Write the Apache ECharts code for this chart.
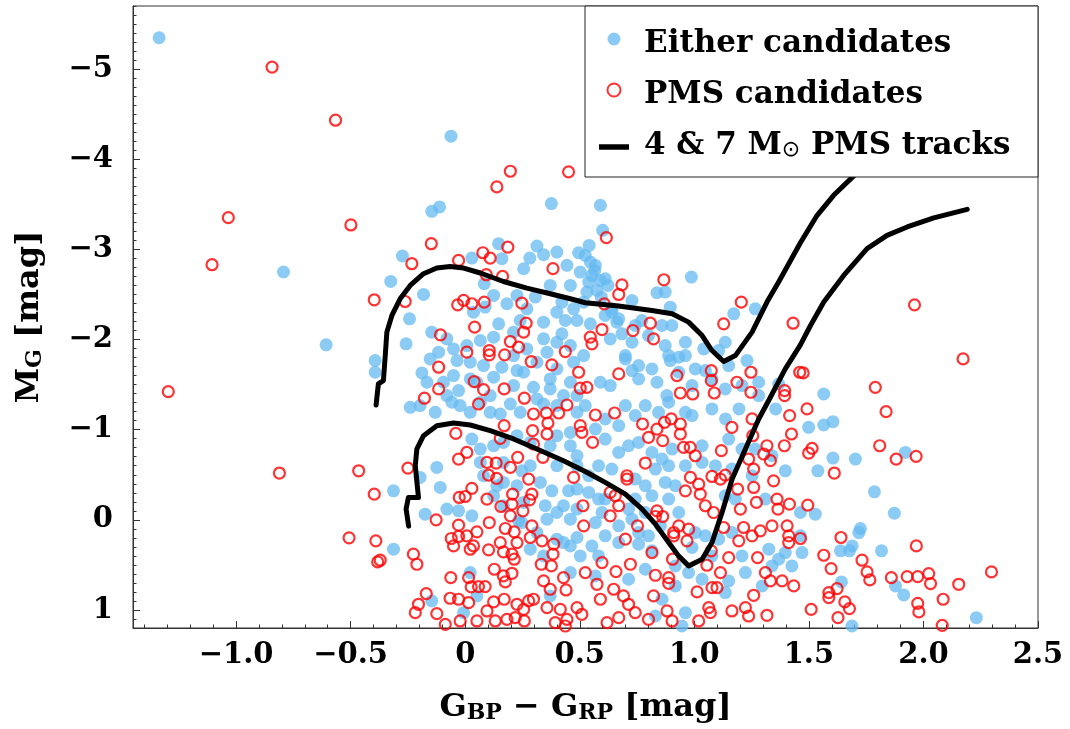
<!DOCTYPE html>
<html>
<head>
<meta charset="utf-8">
<title>Colour–magnitude diagram</title>
<script src="https://cdn.jsdelivr.net/npm/echarts@6/dist/echarts.min.js"></script>
<style>
  html, body { margin: 0; padding: 0; background: #fff; }
  #chart { width: 1070px; height: 729px; }
</style>
</head>
<body>
<div id="chart"></div>
<script>
// Colour (G_BP - G_RP) and absolute magnitude M_G of each star, as [colour, M_G].
const eitherCandidates = [
  [-1.336,-5.348],[-0.062,-4.256],[-0.793,-2.749],[-0.607,-1.941],
  [-0.146,-3.422],[-0.112,-3.471],[0.376,-3.508],[-0.274,-2.927],[-0.325,-2.645],[-0.182,-2.500],[-0.243,-2.230],[-0.258,-1.952],
  [-0.393,-1.767],[-0.393,-1.637],[-0.189,-1.630],[0.146,-3.063],[0.313,-3.037],[0.342,-2.941],[0.282,-2.904],[0.444,-2.823],
  [0.495,-2.963],[0.502,-2.748],[0.160,-2.897],[0.083,-2.619],[0.124,-2.489],[0.029,-2.904],[0.182,-2.397],[0.306,-2.471],
  [0.422,-2.415],[0.036,-2.304],[0.146,-2.174],[0.240,-2.211],[0.087,-2.360],[0.437,-2.211],[0.488,-2.211],[-0.146,-2.082],
  [-0.080,-2.008],[0.066,-1.989],[0.124,-2.026],[0.342,-2.008],[0.422,-2.063],[-0.116,-1.860],[-0.036,-1.767],[0.022,-1.749],
  [0.080,-1.711],[0.160,-1.693],[0.226,-1.656],[0.357,-1.860],[0.473,-1.749],[-0.051,-1.600],[0.022,-1.563],[0.124,-1.582],
  [0.255,-1.637],[0.371,-1.563],[0.298,-1.471],[0.371,-1.452],[-0.095,-1.526],[-0.029,-1.434],[0.211,-1.489],[0.109,-1.378],
  [0.429,-1.378],[0.211,-2.082],
  [0.211,-1.822],[0.269,-1.896],[0.313,-1.748],[0.400,-1.674],[0.459,-1.526],[0.488,-1.378],[0.313,-1.341],[0.400,-1.970],
  [0.459,-1.933],[0.517,-1.822],[0.342,-2.193],[0.400,-2.304],[0.473,-2.341],[0.517,-2.415],[0.269,-2.341],[0.226,-2.489],
  [0.371,-2.600],[0.459,-2.600],[0.400,-2.970],[0.255,-2.785],[-0.051,-1.896],[0.007,-1.933],[-0.153,-1.785],[0.051,-1.526],
  [-0.080,-1.378],[-0.167,-1.526],
  [0.590,-3.489],[0.600,-3.211],[0.541,-3.044],[0.546,-2.859],[0.565,-2.767],[0.539,-2.637],[0.590,-2.656],[0.623,-2.600],
  [0.594,-2.470],[0.987,-2.693],[0.837,-2.519],[0.873,-2.526],[0.728,-2.433],[0.895,-2.359],[0.640,-2.304],[0.662,-2.193],
  [0.546,-2.174],[0.633,-2.007],[0.684,-2.063],[0.800,-2.044],[0.859,-2.156],[0.902,-2.156],[0.961,-1.970],[0.873,-1.933],
  [1.041,-1.896],[1.135,-1.970],[1.172,-2.285],[1.266,-2.341],[1.106,-1.878],[0.699,-1.785],[0.895,-1.767],[0.932,-1.804],
  [0.728,-1.656],[0.757,-1.563],[0.837,-1.526],[0.932,-1.637],[1.048,-1.656],[1.230,-1.767],[1.150,-1.711],[0.633,-1.489],
  [0.590,-1.526],[0.990,-1.489],[1.135,-1.452],[1.368,-1.507],[1.281,-1.378],[0.880,-1.378],
  [0.524,-2.933],[0.568,-2.822],[0.553,-2.711],[0.611,-2.674],[0.575,-2.544],[0.531,-2.526],[0.640,-2.341],[0.670,-2.230],
  [0.611,-2.267],[0.742,-2.156],[0.771,-2.211],[0.728,-1.970],[0.699,-1.822],[0.757,-1.711],[0.815,-1.674],[0.888,-1.822],
  [0.961,-1.822],[1.004,-1.674],[1.077,-1.563],[1.208,-1.489],[1.281,-1.526],
  [1.565,-1.396],
  [-0.240,-1.248],[-0.131,-1.193],[-0.058,-1.304],[0.022,-1.193],[0.109,-1.193],[0.197,-1.285],[0.342,-1.285],[0.459,-0.970],
  [0.029,-0.896],[0.066,-0.785],[0.124,-0.822],[0.226,-0.933],[0.400,-0.933],[0.488,-0.711],[-0.124,-0.581],[-0.197,-0.470],
  [-0.109,-0.359],[-0.313,-0.322],[0.080,-0.489],[0.167,-0.415],[0.247,-0.544],[0.378,-0.322],[0.451,-0.322],[0.349,-0.156],
  [0.429,-0.156],[0.124,-0.267],[-0.080,-0.119],[-0.029,-0.100],[-0.175,-0.063],[0.029,-0.044],[0.233,0.011],[0.357,-0.007],
  [0.459,-0.007],[-0.313,0.326],[0.284,0.326],[0.429,0.252],[0.502,0.400],[0.022,0.585],[0.371,0.844],[0.459,0.585],
  [-0.146,0.900],[0.051,0.844],[-0.007,1.030],[0.247,0.030],[0.488,0.196],
  [-0.197,-1.267],[-0.022,-1.267],[0.066,-1.304],[0.153,-1.174],[0.240,-1.193],[0.400,-1.267],[0.488,-1.193],[0.167,-0.859],
  [0.284,-0.859],[0.371,-0.822],[0.459,-0.822],[0.066,-0.637],[0.167,-0.637],[0.284,-0.600],[0.400,-0.600],[0.488,-0.600],
  [0.138,-0.378],[0.226,-0.378],[0.328,-0.415],[0.488,-0.341],[0.167,-0.156],[0.255,-0.193],[0.400,-0.081],[0.488,-0.119],
  [0.313,0.141],[0.400,0.215],[0.459,0.289],[0.342,0.400],
  [0.611,-1.119],[0.699,-1.267],[0.786,-1.267],[0.888,-1.304],[0.990,-1.156],[1.136,-1.119],[1.195,-1.230],[1.355,-1.230],
  [0.611,-0.896],[0.713,-0.822],[0.757,-0.859],[0.903,-0.785],[1.034,-0.822],[1.208,-0.785],[0.582,-0.600],[0.640,-0.563],
  [0.830,-0.563],[0.888,-0.600],[0.917,-0.378],[1.092,-0.600],[1.164,-0.563],[1.397,-0.544],[0.539,-0.304],[0.582,-0.230],
  [0.815,-0.267],[0.786,-0.378],[1.135,-0.267],[1.310,-0.230],[0.713,-0.119],[0.728,-0.007],[0.568,0.030],[0.611,0.178],
  [0.670,0.067],[0.800,0.178],[0.852,0.067],[1.106,0.215],[1.048,0.178],[1.164,0.141],[0.553,0.289],[0.670,0.252],
  [0.757,0.270],[0.815,0.344],[0.990,0.307],[1.208,0.400],[1.368,0.437],[1.426,0.511],[0.975,0.585],[1.034,0.659],
  [0.713,0.659],[0.786,0.548],[0.917,0.733],[0.568,0.622],[1.150,0.678],[0.859,0.881],[0.961,1.030],[0.946,1.178],
  [1.135,0.807],[0.830,1.067],[1.397,0.363],[1.296,0.733],
  [0.524,-1.267],[0.568,-1.007],[0.670,-1.044],[0.742,-1.156],[0.844,-1.193],[0.961,-1.193],[1.077,-1.230],[0.670,-0.748],
  [0.815,-0.748],[0.859,-0.674],[0.961,-0.600],[1.034,-0.637],[1.150,-0.896],[1.266,-0.785],[1.339,-0.711],[0.539,-0.489],
  [0.742,-0.452],[0.873,-0.415],[1.252,-0.489],[0.611,-0.230],[0.742,-0.230],[0.888,-0.230],[1.179,-0.230],[0.597,-0.081],
  [0.786,-0.081],[0.932,-0.081],[1.004,0.141],[0.757,0.141],[0.582,0.400],[1.325,0.326],[1.223,0.585],[1.339,0.511],
  [1.077,0.400],[0.917,0.511],
  [1.499,-1.026],[1.565,-1.052],[1.605,-1.089],[1.605,-0.685],[1.703,-0.674],[1.539,-0.544],[1.921,-0.748],[1.786,-0.311],
  [1.528,-0.063],[1.873,-0.074],[1.463,-0.081],[1.725,0.096],[1.718,0.141],[1.689,0.289],[1.638,0.344],[1.677,0.344],
  [1.817,0.344],[1.470,0.363],[1.642,0.689],[1.878,0.733],[1.914,0.833],[2.231,1.085],[1.688,1.178],[1.463,0.178]
];

const pmsCandidates = [
  [-0.843,-5.022],[-0.566,-4.433],[-1.034,-3.352],[-0.499,-3.271],[-1.105,-2.830],[-1.296,-1.422],[-0.811,-0.519],[-0.465,-0.544],
  [-0.507,0.200],
  [0.197,-3.867],[0.451,-3.860],[0.138,-3.693],[-0.148,-3.063],[-0.233,-2.841],[-0.029,-2.878],[0.077,-2.963],[0.109,-2.904],
  [0.186,-3.026],[0.383,-2.786],[0.092,-2.719],[0.163,-2.700],[-0.397,-2.441],[-0.262,-2.422],[-0.033,-2.385],[-0.007,-2.434],
  [0.029,-2.397],[0.083,-2.415],[0.247,-2.404],[0.266,-2.182],[0.255,-2.082],[0.041,-2.137],[-0.108,-2.052],[0.197,-1.978],
  [0.233,-1.915],[0.007,-1.860],[0.105,-1.878],[0.105,-1.830],[0.172,-1.830],[0.437,-1.867],[0.288,-1.756],[0.378,-1.719],
  [-0.116,-1.693],[0.495,-1.637],[0.039,-1.534],[0.080,-1.445],[0.170,-1.452],[-0.116,-1.452],[-0.178,-1.349],[0.258,-1.349],
  [0.502,-1.460],
  [0.616,-3.130],[0.684,-2.607],[0.670,-2.500],[0.867,-2.663],[0.607,-2.396],[0.808,-2.181],[0.732,-2.100],[0.822,-2.007],
  [0.597,-2.111],[0.546,-2.026],[0.553,-1.952],[1.205,-2.415],[1.128,-2.174],[1.431,-2.181],[1.074,-1.656],[1.074,-1.544],
  [1.247,-1.637],[1.186,-1.526],[0.924,-1.600],[0.670,-1.619],[0.531,-1.470],[0.939,-1.407],[0.993,-1.396],[1.087,-1.407],
  [1.247,-1.415],[1.394,-1.433],[1.394,-1.378],[1.460,-1.637],
  [1.961,-2.385],[2.173,-1.785],[1.475,-1.630],[1.790,-1.470],
  [0.058,-1.285],[0.298,-1.174],[0.354,-1.185],[0.408,-1.185],[0.444,-1.274],[0.361,-1.074],[0.294,-0.989],[0.357,-0.952],
  [0.502,-1.044],[0.509,-0.970],[0.170,-1.044],[-0.041,-0.959],[0.153,-0.904],[0.298,-0.841],[0.339,-0.693],[0.229,-0.693],
  [0.197,-0.581],[0.095,-0.637],[0.135,-0.630],[0.007,-0.748],[-0.029,-0.674],[0.102,-0.496],[0.137,-0.459],[0.277,-0.452],
  [0.473,-0.470],[-0.250,-0.574],[-0.397,-0.285],[0.029,-0.348],[-0.026,-0.248],[0.000,-0.259],[0.095,-0.230],[0.207,-0.285],
  [0.291,-0.285],[0.281,-0.222],[0.156,-0.148],[0.204,-0.174],[0.197,-0.044],[0.252,-0.100],[0.291,0.067],[-0.127,0.000],
  [-0.029,0.059],[0.105,0.030],[0.175,0.096],[0.214,0.133],[0.514,-0.156],[0.517,0.067],[-0.390,0.233],[-0.371,0.448],
  [-0.382,0.467],[-0.226,0.381],[-0.211,0.493],[-0.061,0.207],[-0.029,0.185],[0.007,0.178],[0.051,0.133],[-0.051,0.289],
  [0.022,0.326],[0.036,0.289],[0.102,0.333],[0.153,0.252],[0.167,0.356],[0.226,0.252],[0.204,0.381],[0.214,0.437],
  [0.284,0.196],[0.335,0.233],[0.386,0.270],[0.383,0.381],[0.332,0.493],[0.376,0.511],[0.127,0.548],[0.167,0.622],
  [0.204,0.593],[0.175,0.689],[-0.063,0.641],[0.015,0.641],[0.026,0.744],[0.058,0.741],[0.087,0.741],[0.342,0.678],
  [0.371,0.770],[0.440,0.778],[0.429,0.641],[-0.170,0.819],[-0.204,0.937],[-0.066,0.870],[-0.029,0.881],[0.015,0.919],
  [0.124,0.911],[0.170,0.881],[0.226,0.937],[0.277,0.900],[0.255,0.993],[0.298,0.881],[-0.124,1.041],[-0.218,1.030],
  [-0.087,1.159],[-0.022,1.122],[0.051,1.122],[0.095,1.011],[0.131,1.122],[0.182,1.104],[0.218,1.085],[0.258,1.122],
  [0.357,0.974],[0.415,0.993],[0.444,1.104],[0.488,0.974],[0.393,1.141],[0.509,1.048],[0.437,1.178],
  [0.568,-1.163],[0.652,-1.185],[0.774,-1.063],[0.837,-1.007],[0.870,-1.081],[0.899,-1.119],[0.939,-1.063],[0.939,-0.952],
  [0.800,-0.915],[0.862,-0.878],[0.556,-0.859],[0.953,-0.804],[0.982,-0.804],[1.004,-0.711],[1.118,-0.767],[1.164,-1.026],
  [1.252,-1.119],[1.255,-0.933],[1.317,-0.822],[1.303,-0.730],[1.332,-0.656],[1.237,-0.674],[1.259,-0.563],[1.416,-1.156],
  [1.424,-0.952],[1.393,-0.822],[0.786,-0.630],[0.983,-0.470],[1.077,-0.481],[1.114,-0.452],[1.135,-0.496],[0.706,-0.489],
  [0.706,-0.452],[0.961,-0.322],[1.019,-0.396],[1.026,-0.285],[1.189,-0.341],[1.259,-0.359],[1.346,-0.433],[0.633,-0.304],
  [0.655,-0.267],[0.670,-0.156],[0.633,-0.044],[0.837,-0.100],[0.862,-0.037],[0.830,-0.037],[1.048,-0.156],[1.084,-0.081],
  [1.271,-0.193],[1.201,-0.119],[1.361,-0.230],[1.365,-0.119],[1.415,-0.174],[0.752,0.067],[0.699,0.215],[0.910,0.141],
  [0.932,0.067],[0.975,0.104],[0.968,0.233],[0.910,0.178],[1.128,0.085],[1.215,0.085],[1.288,0.122],[1.252,0.178],
  [1.194,0.233],[1.339,0.067],[1.405,0.067],[1.412,0.178],[1.412,0.252],[0.815,0.363],[0.905,0.437],[1.074,0.344],
  [1.150,0.419],[1.276,0.419],[0.597,0.474],[0.721,0.493],[0.658,0.574],[0.830,0.615],[0.888,0.641],[0.888,0.704],
  [1.055,0.504],[1.114,0.585],[1.012,0.800],[1.077,0.752],[1.099,0.752],[1.259,0.837],[1.310,0.585],[1.332,0.678],
  [1.383,0.678],[1.434,0.733],[0.524,0.585],[0.575,0.715],[0.590,0.881],[0.648,0.770],[0.691,0.844],[0.713,0.937],
  [0.742,1.030],[0.822,0.844],[0.881,1.011],[0.800,1.104],[0.670,1.085],[0.619,1.141],[0.903,1.122],[1.063,0.974],
  [1.070,1.030],[1.019,1.122],[1.164,1.011],[1.223,0.974],[1.237,1.067],[1.317,1.059],
  [1.492,-1.230],[1.837,-1.200],[1.514,-0.793],[1.499,-0.741],[1.809,-0.822],[1.881,-0.674],[1.968,-0.704],[1.611,-0.519],
  [1.495,-0.163],[1.463,0.207],[1.640,0.196],[1.969,0.289],[1.565,0.393],[1.597,0.541],[1.732,0.448],[1.754,0.578],
  [1.766,0.667],[1.860,0.641],[1.929,0.630],[1.975,0.630],[2.023,0.596],[2.031,0.707],[2.154,0.715],[2.297,0.578],
  [1.623,0.763],[1.587,0.807],[1.587,0.863],[1.657,0.911],[1.677,0.985],[1.510,0.993],[1.627,1.085],[1.975,0.926],
  [1.980,1.022],[2.086,0.881],[2.082,1.170]
];

// Pre-main-sequence evolutionary tracks, listed from the start of each track.
const track7Msun = [
  [-0.389,-1.274],[-0.379,-1.508],[-0.357,-1.544],[-0.349,-1.822],[-0.342,-2.082],[-0.320,-2.267],[-0.284,-2.452],
  [-0.240,-2.600],[-0.182,-2.730],[-0.124,-2.793],[-0.066,-2.811],[-0.007,-2.793],[0.066,-2.738],[0.167,-2.644],
  [0.269,-2.571],[0.371,-2.508],[0.459,-2.452],[0.524,-2.408],[0.669,-2.371],[0.815,-2.322],[0.903,-2.286],
  [0.975,-2.193],[1.034,-2.044],[1.077,-1.878],[1.128,-1.756],[1.179,-1.822],[1.252,-2.082],[1.317,-2.416],
  [1.368,-2.638],[1.463,-3.074],[1.536,-3.378],[1.608,-3.600],[1.696,-3.816],[1.769,-3.974],[1.878,-4.230]
];
const track4Msun = [
  [-0.247,0.070],[-0.258,-0.119],[-0.248,-0.249],[-0.204,-0.249],[-0.218,-0.600],[-0.211,-0.786],[-0.182,-0.933],
  [-0.124,-1.044],[-0.051,-1.074],[0.022,-1.052],[0.109,-0.989],[0.211,-0.897],[0.313,-0.786],[0.429,-0.656],
  [0.524,-0.536],[0.611,-0.416],[0.699,-0.286],[0.772,-0.119],[0.830,0.048],[0.888,0.251],[0.931,0.400],
  [0.975,0.511],[1.034,0.437],[1.077,0.251],[1.121,-0.082],[1.165,-0.452],[1.223,-0.786],[1.281,-1.119],
  [1.328,-1.341],[1.397,-1.674],[1.463,-1.941],[1.507,-2.156],[1.565,-2.416],[1.652,-2.711],[1.754,-3.008],
  [1.841,-3.156],[1.929,-3.249],[2.045,-3.349],[2.191,-3.444]
];

// Axis ranges and labelled tick positions.
const xRange = [-1.45, 2.5];
const yRange = [-5.7, 1.2];
const xMajorTicks = [-1.0, -0.5, 0, 0.5, 1.0, 1.5, 2.0, 2.5];
const yMajorTicks = [-5, -4, -3, -2, -1, 0, 1];

const TRACK_NAME = '4 & 7 M\u2299 PMS tracks';
const FONT = 'DejaVu Serif';
const AXIS_COLOR = '#333';

// Minor ticks every 0.1 between the labelled ones.
const xMinorTicks = [];
for (let i = -14; i <= 24; i++) if (i % 5 !== 0) xMinorTicks.push(i / 10);
const yMinorTicks = [];
for (let i = -57; i <= 12; i++) if (i % 10 !== 0) yMinorTicks.push(i / 10);

const minus = '\u2212';
const fmtX = v => v === 0 ? '0' : (v < 0 ? minus : '') + Math.abs(v).toFixed(1);
const fmtY = v => v === 0 ? '0' : (v < 0 ? minus : '') + Math.abs(v).toFixed(0);

const labelStyle = { color: '#000', fontFamily: FONT, fontWeight: 'bold', fontSize: 29 };
const titleRich = {
  n: { fontFamily: FONT, fontWeight: 'bold', fontSize: 32, lineHeight: 44, color: '#000', verticalAlign: 'bottom' },
  s: { fontFamily: FONT, fontWeight: 'bold', fontSize: 22, lineHeight: 22, color: '#000', verticalAlign: 'bottom' }
};

function minorAxis(range, values, pos) {
  return {
    type: 'value', min: range[0], max: range[1], position: pos,
    axisLine: { show: false, onZero: false }, splitLine: { show: false }, axisLabel: { show: false },
    axisTick: { show: true, inside: true, length: 3.5, customValues: values, lineStyle: { color: AXIS_COLOR } }
  };
}

const chart = echarts.init(document.getElementById('chart'), null, { renderer: 'canvas' });
chart.setOption({
  animation: false,
  backgroundColor: '#fff',
  grid: { left: 133, right: 32, top: 6, bottom: 100, show: true, borderColor: AXIS_COLOR, borderWidth: 1, backgroundColor: 'transparent' },
  xAxis: [
    {
      type: 'value', min: xRange[0], max: xRange[1], position: 'bottom',
      axisLine: { show: true, onZero: false, lineStyle: { color: AXIS_COLOR, width: 1 } },
      splitLine: { show: false },
      axisTick: { show: true, inside: true, length: 7, customValues: xMajorTicks, lineStyle: { color: AXIS_COLOR } },
      axisLabel: Object.assign({ customValues: xMajorTicks, formatter: fmtX, margin: 13 }, labelStyle),
      name: '{n|G}{s|BP}{n| \u2212 G}{s|RP}{n| [mag]}',
      nameLocation: 'middle', nameGap: 52,
      nameTextStyle: { rich: titleRich }
    },
    minorAxis(xRange, xMinorTicks, 'bottom')
  ],
  yAxis: [
    {
      type: 'value', min: yRange[0], max: yRange[1], inverse: true, position: 'left',
      axisLine: { show: true, onZero: false, lineStyle: { color: AXIS_COLOR, width: 1 } },
      splitLine: { show: false },
      axisTick: { show: true, inside: true, length: 7, customValues: yMajorTicks, lineStyle: { color: AXIS_COLOR } },
      axisLabel: Object.assign({ customValues: yMajorTicks, formatter: fmtY, margin: 20 }, labelStyle),
      name: '{n|M}{s|G}{n| [mag]}',
      nameLocation: 'middle', nameRotate: 90, nameGap: 87,
      nameTextStyle: { rich: titleRich }
    },
    Object.assign(minorAxis(yRange, yMinorTicks, 'left'), { inverse: true })
  ],
  legend: {
    orient: 'vertical', left: 599, top: 28, padding: 0, itemGap: 20,
    itemWidth: 30, itemHeight: 13, selectedMode: false, z: 6,
    formatter: name => name === TRACK_NAME
      ? '{n|4 & 7 M}{sub|\u2299}{n| PMS tracks}'
      : '{n|' + name + '}',
    textStyle: {
      padding: [0, 0, 0, 10],
      rich: {
        n: { fontFamily: FONT, fontWeight: 'bold', fontSize: 31, lineHeight: 40, color: '#000', verticalAlign: 'bottom' },
        sub: { fontFamily: 'DejaVu Sans', fontSize: 22, lineHeight: 18, color: '#000', verticalAlign: 'bottom' }
      }
    },
    data: [
      { name: 'Either candidates', icon: 'circle', itemStyle: { color: 'rgb(139,202,244)', opacity: 1 } },
      { name: 'PMS candidates', icon: 'circle', itemStyle: { color: 'rgba(0,0,0,0)', borderColor: '#ff0000', borderWidth: 2 } },
      { name: TRACK_NAME, icon: 'path://M0,0L30,0L30,5.5L0,5.5Z', itemStyle: { color: '#000', borderWidth: 0 },
        textStyle: { padding: [0, 0, 12, 10] } }
    ]
  },
  graphic: [
    {
      type: 'rect', z: 5, silent: true,
      shape: { x: 585, y: 6, width: 453, height: 171 },
      style: { fill: '#fff', stroke: '#222', lineWidth: 1 }
    }
  ],
  series: [
    {
      name: 'Either candidates', type: 'scatter', data: eitherCandidates,
      xAxisIndex: 0, yAxisIndex: 0, symbol: 'circle', symbolSize: 13, z: 2, silent: true,
      itemStyle: { color: 'rgb(100,185,240)', opacity: 0.75 }
    },
    {
      name: 'PMS candidates', type: 'scatter', data: pmsCandidates,
      xAxisIndex: 0, yAxisIndex: 0, symbol: 'circle', symbolSize: 11, z: 3, silent: true,
      itemStyle: { color: 'rgba(0,0,0,0)', borderColor: '#ff0000', borderWidth: 2.2 }
    },
    {
      name: TRACK_NAME, type: 'line', data: track7Msun, xAxisIndex: 0, yAxisIndex: 0,
      showSymbol: false, symbol: 'none', z: 4, silent: true, clip: true,
      lineStyle: { color: '#000', width: 5, cap: 'round', join: 'round' }, itemStyle: { color: '#000' }
    },
    {
      name: TRACK_NAME, type: 'line', data: track4Msun, xAxisIndex: 0, yAxisIndex: 0,
      showSymbol: false, symbol: 'none', z: 4, silent: true, clip: true,
      lineStyle: { color: '#000', width: 5, cap: 'round', join: 'round' }, itemStyle: { color: '#000' }
    }
  ]
});
</script>
</body>
</html>
